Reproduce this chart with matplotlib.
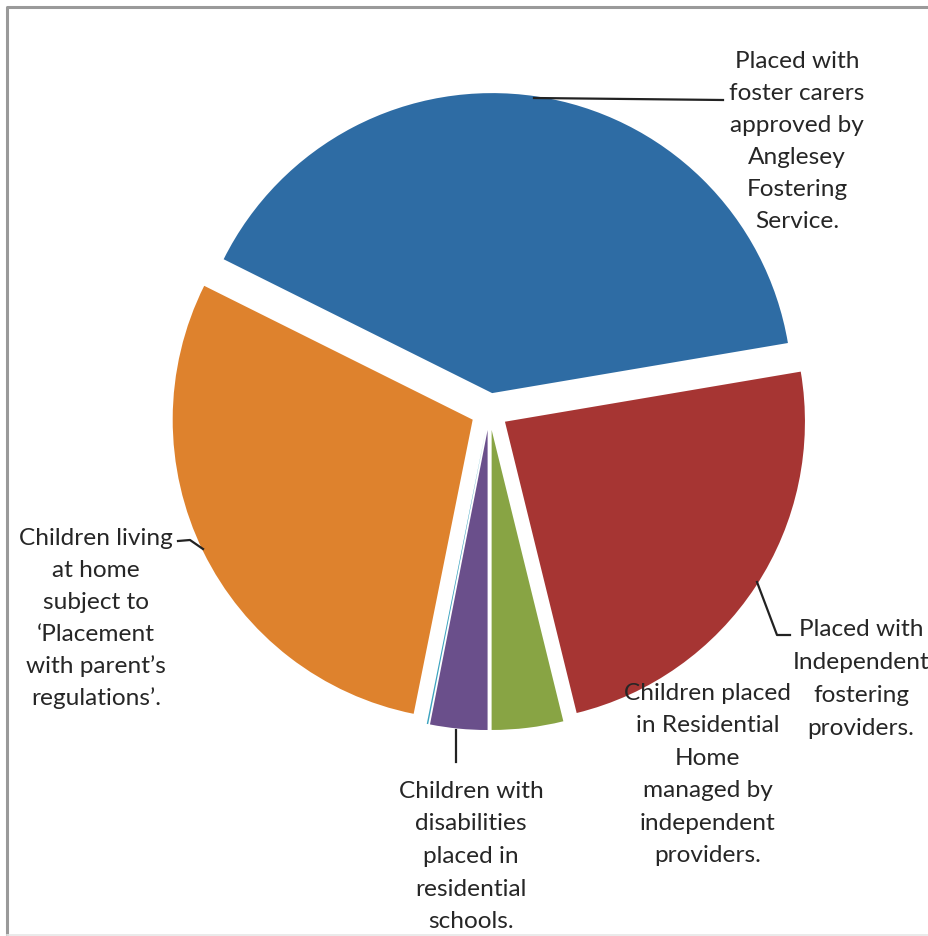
import matplotlib
matplotlib.use("Agg")
import matplotlib.pyplot as plt
from matplotlib.lines import Line2D

# Placement categories (clockwise from the upper-left edge of the first slice)
categories = [
    "Placed with\nfoster carers\napproved by\nAnglesey\nFostering\nService.",
    "Placed with\nIndependent\nfostering\nproviders.",
    "Children placed\nin Residential\nHome\nmanaged by\nindependent\nproviders.",
    "Children with\ndisabilities\nplaced in\nresidential\nschools.",
    "",
    "Children living\nat home\nsubject to\n\u2018Placement\nwith parent\u2019s\nregulations\u2019.",
]
values = [52, 31, 5, 4, 0.1, 38]
colors = ["#2E6CA4", "#A63533", "#88A444", "#6A4F8B", "#3BA3BF", "#DE822D"]

W, H = 929, 936
fig = plt.figure(figsize=(W / 100, H / 100), dpi=100)
fig.patch.set_facecolor("white")

# Pie axes: radius 300 px, centred at (489, 411) in image pixels
R = 300.0
cx, cy = 489.4, 411.5
half = 1.25 * R
pie_ax = fig.add_axes([(cx - half) / W, (H - cy - half) / H, 2 * half / W, 2 * half / H])
pie_ax.pie(values, colors=colors, startangle=153.5, counterclock=False,
           radius=1.0, explode=[0.062] * len(values),
           wedgeprops=dict(linewidth=0))
pie_ax.set_xlim(-1.25, 1.25)
pie_ax.set_ylim(-1.25, 1.25)
pie_ax.set_axis_off()

# Overlay in pixel coordinates for labels, leader lines and the frame
ov = fig.add_axes([0, 0, 1, 1], facecolor="none")
ov.set_xlim(0, W)
ov.set_ylim(H, 0)
ov.set_axis_off()

# Chart frame (left and top edges visible, faint bottom edge)
ov.add_line(Line2D([7, 7, W + 5], [H + 5, 7, 7], color="#9A9A9A", lw=2.2))
ov.add_line(Line2D([7, W + 5], [935, 935], color="#E6E6E6", lw=1.2))

# Label placement: (centre x, first baseline y, line step)
label_pos = [
    (797, 68, 32.0),
    (861, 636, 33.0),
    (708, 700, 32.4),
    (471, 798, 32.5),
    None,
    (96, 545, 32.0),
]
leaders = [
    ([534, 723], [98, 100]),
    ([757, 777, 790], [582, 635, 635]),
    None,
    ([456, 456], [730, 762]),
    None,
    ([178, 190, 203], [541, 540, 549]),
]

text_kw = dict(fontsize=17.6, color="#262626", family=["Lato", "DejaVu Sans"],
               ha="center", va="baseline")
for label, pos, lead in zip(categories, label_pos, leaders):
    if pos is not None and label:
        x0, y0, step = pos
        for i, line in enumerate(label.split("\n")):
            ov.text(x0, y0 + i * step, line, **text_kw)
    if lead is not None:
        ov.add_line(Line2D(lead[0], lead[1], color="#222222", lw=1.6))

fig.savefig("out.png", dpi=100)
